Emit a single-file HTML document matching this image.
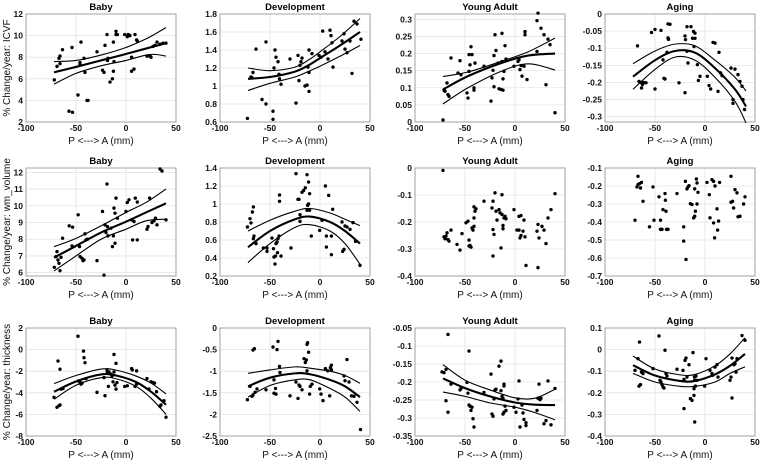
<!DOCTYPE html>
<html><head><meta charset="utf-8">
<style>
html,body{margin:0;padding:0;background:#fff;}
svg{display:block;font-family:"Liberation Sans",Arial,sans-serif;}
.tick{font-size:8.5px;font-weight:bold;fill:#111;}
.ttl{font-size:9.5px;font-weight:bold;fill:#000;}
.xl{font-size:10px;fill:#111;}
.yl{font-size:10px;fill:#111;}
</style></head>
<body>
<svg id="fig" width="768" height="463" viewBox="0 0 768 463" xmlns="http://www.w3.org/2000/svg"></svg>
<script>
// ---------- shared ----------
const xTicks = [-100, -50, 0, 50];
const panelTitles = ["Baby", "Development", "Young Adult", "Aging"];
const rowLabels = ["% Change/year: ICVF", "% Change/year: wm_volume", "% Change/year: thickness"];

// ---------- Row 1: ICVF ----------
const icvfBabyX = [-71.7,-69,-67,-66,-63.5,-66,-57,-53.5,-54,-48,-45,-46,-46,-42,-41,-39,-38,-29,-23.5,-22,-21,-19,-18.5,-18,-16,-13.6,-12.6,-12.6,-12,-10,-10,-8.6,-1.3,2.3,1.3,3.9,5.6,5.6,8,9,10.6,11.3,21,24,25,27,29,31,34,37,40];
const icvfBabyY = [5.9,7.15,7.9,8.1,8.7,7.4,3.0,2.9,8.9,4.5,9.4,7.5,7.3,7.9,6.6,4.0,4.0,8.5,6.8,6.6,9.1,10.1,7.7,7.9,5.7,6.0,6.7,9.4,7.6,10.4,10.1,10.1,10.1,10.1,9.9,10.0,8.0,6.7,6.9,10.1,9.6,9.5,8.1,8.1,8.0,9.0,9.1,9.4,9.2,9.3,9.3];
const icvfBabyFitX = [-72,-50,-25,0,20,30,40];
const icvfBabyFit = [6.6,7.1,7.7,8.3,8.8,9.05,9.3];
const icvfBabyUp = [7.6,7.7,8.2,8.9,9.7,10.2,10.75];
const icvfBabyLo = [5.5,6.5,7.2,7.7,8.2,8.25,8.1];

const icvfDevX = [-72.6,-69,-68,-67,-64,-58,-54,-54,-47,-47,-46,-45,-44,-42,-41,-40.5,-39,-30,-24,-22,-21,-20,-19,-18,-15,-13,-12,-11,-11,-11,-8,-1,1,2.7,5,8,10,11,12,13,22,24,25,27,30,32,34,37,41];
const icvfDevY = [0.64,1.10,1.09,1.15,1.41,0.85,0.80,1.49,0.72,0.63,1.2,1.40,1.32,1.27,1.13,1.08,1.02,1.3,0.81,1.34,1.06,1.23,1.27,1.31,1.0,1.01,1.21,1.15,1.40,0.94,1.36,1.34,1.32,1.61,1.38,1.3,1.62,1.56,1.48,1.21,1.5,1.58,1.41,1.37,1.5,1.14,1.72,1.69,1.52];
const icvfDevFitX = [-72,-50,-25,-10,0,20,40];
const icvfDevFit = [1.08,1.1,1.16,1.24,1.31,1.45,1.6];
const icvfDevUp = [1.2,1.17,1.21,1.3,1.38,1.55,1.75];
const icvfDevLo = [0.95,1.03,1.1,1.17,1.22,1.33,1.45];

const icvfYaX = [-72,-71,-70,-68,-67,-66,-64,-57,-55,-54,-48,-47,-46,-46,-45,-44,-43,-41,-41,-40,-31,-24,-23,-22,-21,-21,-20,-19,-17,-16,-14,-12,-13,-12,-13,-11,-10,-9,-1,3,4,5,6,7,9,10,10,12,22,22,23,26,29,31,33,35,40];
const icvfYaY = [0.006,0.093,0.09,0.114,0.08,0.075,0.187,0.143,0.179,0.138,0.085,0.07,0.148,0.197,0.167,0.22,0.197,0.1,0.093,0.172,0.163,0.061,0.129,0.151,0.103,0.194,0.255,0.209,0.172,0.097,0.095,0.093,0.259,0.126,0.177,0.148,0.223,0.184,0.163,0.177,0.182,0.153,0.165,0.134,0.163,0.264,0.255,0.124,0.206,0.296,0.318,0.274,0.255,0.109,0.242,0.226,0.027];
const icvfYaFitX = [-72,-47,-14,13,40];
const icvfYaFit = [0.095,0.134,0.172,0.194,0.2];
const icvfYaUp = [0.133,0.146,0.177,0.205,0.245];
const icvfYaLo = [0.053,0.1,0.148,0.17,0.152];

const icvfAgX = [-67.5,-66,-64,-62.5,-63.5,-61.5,-59,-53.5,-50,-50,-44,-42,-41,-40,-38,-37,-35,-37,-36.5,-26,-20,-20,-19.5,-18,-18,-17,-14,-12.5,-11.5,-11,-10,-10,-7.6,-6.6,-5,2.3,4,5.7,8,10,13,14,15.6,17,26,28,28,30,33,35,37,38,39.5];
const icvfAgY = [-0.093,-0.197,-0.2,-0.206,-0.216,-0.2,-0.201,-0.054,-0.045,-0.219,-0.048,-0.134,-0.188,-0.19,-0.112,-0.029,-0.03,-0.07,-0.074,-0.201,-0.23,-0.064,-0.075,-0.037,-0.109,-0.143,-0.037,-0.071,-0.051,-0.095,-0.056,-0.071,-0.148,-0.194,-0.182,-0.182,-0.209,-0.219,-0.083,-0.085,-0.226,-0.112,-0.172,-0.18,-0.158,-0.261,-0.25,-0.161,-0.177,-0.197,-0.211,-0.25,-0.279];
const icvfAgFitX = [-72,-50,-30,-10,10,30,41];
const icvfAgFit = [-0.183,-0.135,-0.108,-0.113,-0.158,-0.22,-0.27];
const icvfAgUp = [-0.145,-0.108,-0.088,-0.093,-0.135,-0.185,-0.225];
const icvfAgLo = [-0.22,-0.162,-0.126,-0.135,-0.185,-0.255,-0.318];

// ---------- Row 2: wm_volume ----------
const wmBabyX = [-71.7,-70,-69,-68,-67,-66,-65,-63.4,-56.8,-53.4,-54,-47.8,-46.5,-46,-44,-43,-42,-41,-40,-38.5,-29,-23.5,-22,-21,-19,-20,-18,-18.6,-15,-13.6,-12.6,-12,-11,-10,-11,-8.6,0,1.3,3,5.6,6.6,8,9.3,11.3,11.3,21,22,23.6,26,28,29.5,31,34,36,40];
const wmBabyY = [6.32,6.96,7.26,6.76,6.56,6.12,6.92,8.06,8.8,8.72,7.6,9.46,7.56,6.96,6.86,6.72,6.76,8.32,7.96,8.0,6.72,9.66,5.85,8.86,11.3,8.4,8.2,8.76,8.66,7.56,8.2,9.86,9.56,10.46,7.76,9.26,9.66,10.2,10.36,9.16,7.96,9.06,10.46,10.22,7.96,8.6,8.76,10.46,9.0,9.1,9.26,8.86,12.2,12.08,9.16];
const wmBabyFitX = [-72,-50,-25,0,20,40];
const wmBabyFit = [6.9,7.6,8.4,9.05,9.6,10.15];
const wmBabyUp = [7.55,8.05,8.8,9.6,10.2,11.0];
const wmBabyLo = [6.1,7.0,8.0,8.6,9.1,9.2];

const wmDevX = [-72.6,-70,-69,-66.6,-67.6,-66,-64,-66.6,-56.6,-53,-53,-48,-46.5,-46,-44.5,-45,-44,-43,-42,-41,-40.5,-40.5,-42.5,-39,-29,-24,-22,-21,-20,-20,-18,-16.4,-14.7,-13,-13,-12.4,-11.4,-11.4,-10.4,-10.4,-8.7,-0.3,2,5.4,6.4,6.4,8.7,11.4,11.4,12.7,22,22.7,24,25,27,30,33,35.5,40];
const wmDevY = [0.745,0.837,0.79,0.967,0.911,0.644,0.56,0.615,0.511,0.511,0.474,0.622,0.504,0.411,0.422,0.333,0.56,0.578,0.615,0.644,1.03,1.1,0.459,0.422,0.511,1.337,1.052,1.052,0.807,0.881,1.13,1.15,1.18,1.326,0.93,0.985,1.0,1.244,1.115,0.93,0.644,0.707,0.819,1.2,0.522,0.644,1.096,0.644,0.437,0.941,0.8,0.474,0.496,0.756,0.744,0.718,0.793,0.585,0.318];
const wmDevFitX = [-72,-50,-25,-10,10,25,40];
const wmDevFit = [0.52,0.7,0.83,0.86,0.8,0.7,0.56];
const wmDevUp = [0.7,0.82,0.92,0.95,0.9,0.83,0.76];
const wmDevLo = [0.35,0.56,0.74,0.77,0.7,0.56,0.33];

const wmYaX = [-72,-71,-70,-69,-68,-67,-66,-64,-58,-55,-53,-49,-47,-46,-46,-45,-44,-43,-42,-41,-41,-40,-39,-41,-31,-23,-22,-22,-22,-21,-20,-19,-18,-16,-15,-14,-13,-13,-12,-12,-11,-10,-9,-1,2,4,4,6,5,6,8,9,10,11,22,23,23,24,27,29,31,33,36,40];
const wmYaY = [-0.009,-0.255,-0.262,-0.252,-0.24,-0.265,-0.271,-0.23,-0.283,-0.304,-0.243,-0.203,-0.197,-0.267,-0.289,-0.287,-0.293,-0.222,-0.23,-0.216,-0.185,-0.16,-0.151,-0.144,-0.123,-0.148,-0.123,-0.228,-0.326,-0.246,-0.092,-0.16,-0.193,-0.154,-0.166,-0.296,-0.099,-0.172,-0.213,-0.225,-0.185,-0.179,-0.188,-0.154,-0.23,-0.23,-0.179,-0.176,-0.259,-0.25,-0.234,-0.193,-0.255,-0.361,-0.234,-0.369,-0.209,-0.259,-0.216,-0.23,-0.28,-0.185,-0.154,-0.095];

const wmAgX = [-70,-67,-67,-68,-65.5,-64.5,-63.5,-62,-55.5,-52,-51,-46,-44.5,-44.5,-43,-42,-40,-39.6,-39,-38.5,-37,-28,-21.3,-21.3,-19.6,-19,-18,-17,-16,-14.6,-13,-11.3,-10.3,-10.3,-9.6,-8.6,-8,-8,-7,2,4.3,5,7,8.6,8.6,9.6,10,12,12.6,13.6,14.6,26,26,27.6,28.6,30,32,33,35,38.6,40];
const wmAgY = [-0.39,-0.146,-0.192,-0.205,-0.187,-0.211,-0.18,-0.285,-0.427,-0.205,-0.39,-0.26,-0.39,-0.441,-0.441,-0.331,-0.242,-0.279,-0.34,-0.441,-0.441,-0.242,-0.427,-0.506,-0.174,-0.608,-0.216,-0.205,-0.198,-0.298,-0.303,-0.377,-0.216,-0.368,-0.34,-0.161,-0.183,-0.3,-0.235,-0.18,-0.248,-0.377,-0.165,-0.174,-0.405,-0.488,-0.2,-0.327,-0.445,-0.395,-0.18,-0.146,-0.29,-0.285,-0.322,-0.22,-0.238,-0.371,-0.368,-0.3,-0.26];

// ---------- Row 3: thickness ----------
const thBabyX = [-72,-69,-67,-66,-68,-66,-65,-63,-48,-47.5,-46,-45,-44,-42.5,-42,-41,-40,-29,-22,-21,-19,-18.6,-17.6,-17,-15,-14,-13,-12,-12,-11,-10,-10,-9,-1.3,1.3,5.6,6.3,9,10.6,10.6,21,23,25,27,28.5,30.5,34,35,38,40];
const thBabyY = [-4.42,-5.34,-5.19,-5.13,-1.06,-1.82,-3.66,-3.6,1.24,-2.9,-3.05,-3.2,-3.1,-0.14,-0.75,-1.21,-2.68,-3.96,-2.59,-4.27,-1.91,-2.13,-3.41,-2.07,-2.28,-2.43,-2.98,-0.45,-2.07,-3.29,-1.27,-3.66,-3.05,-3.41,-3.35,-1.76,-1.88,-3.41,-3.2,-1.97,-2.68,-3.66,-2.98,-3.05,-3.1,-3.9,-5.24,-5.13,-4.73,-6.26];
const thBabyFitX = [-72,-50,-25,-10,10,25,40];
const thBabyFit = [-3.9,-2.95,-2.3,-2.4,-3.0,-3.9,-5.1];
const thBabyUp = [-3.15,-2.4,-1.8,-1.9,-2.45,-3.1,-4.1];
const thBabyLo = [-4.6,-3.3,-2.6,-2.7,-3.4,-4.5,-6.0];

const thDevX = [-72.6,-70,-68,-67,-67,-65.6,-65,-63,-54,-47,-46,-46,-44.5,-44,-43,-42,-40.5,-40,-30,-24,-22,-21,-20,-18,-16,-14.7,-13.7,-13,-12.4,-13,-11.4,-10.4,-9.7,-8,-0.3,1,3,5.4,7.7,10.4,11.4,11.4,9.7,24,25,27,29,31.5,34,37,40.5];
const thDevY = [-1.66,-1.35,-1.58,-1.55,-0.51,-0.48,-1.49,-1.41,-1.43,-0.44,-1.2,-1.51,-1.4,-1.53,-0.5,-0.31,-0.89,-1.03,-1.57,-1.25,-1.63,-1.32,-1.35,-1.43,-0.71,-0.8,-0.74,-0.38,-0.34,-0.99,-0.56,-1.53,-1.35,-1.3,-1.41,-1.53,-1.68,-0.94,-0.99,-0.92,-0.86,-0.97,-1.57,-1.11,-1.22,-0.73,-1.25,-1.57,-1.58,-1.72,-2.35];
const thDevFitX = [-72,-50,-25,-10,10,25,40];
const thDevFit = [-1.35,-1.15,-1.05,-1.07,-1.2,-1.35,-1.6];
const thDevUp = [-1.05,-0.97,-0.9,-0.93,-1.0,-1.1,-1.28];
const thDevLo = [-1.6,-1.33,-1.2,-1.2,-1.4,-1.6,-1.93];

const thYaX = [-73,-71,-69,-67,-69,-67,-64,-55,-54,-48,-47,-46,-46,-45,-44,-43,-42,-41,-31,-24,-23,-22,-21,-20,-19,-16,-14,-14,-13,-12,-11,-11,-12,-11,-10,-9,-1,1,3,4,5,7,8,9,11,11,22,23,24,25,26,29,31,33,36,40];
const thYaY = [-0.172,-0.174,-0.165,-0.068,-0.252,-0.284,-0.206,-0.222,-0.218,-0.201,-0.231,-0.264,-0.114,-0.267,-0.279,-0.27,-0.302,-0.325,-0.229,-0.178,-0.289,-0.295,-0.247,-0.222,-0.22,-0.156,-0.142,-0.224,-0.24,-0.245,-0.211,-0.206,-0.289,-0.284,-0.267,-0.279,-0.27,-0.284,-0.247,-0.197,-0.325,-0.264,-0.286,-0.304,-0.313,-0.321,-0.279,-0.245,-0.206,-0.249,-0.245,-0.316,-0.307,-0.197,-0.319,-0.218];
const thYaFitX = [-72,-50,-25,0,20,40];
const thYaFit = [-0.19,-0.217,-0.24,-0.257,-0.263,-0.264];
const thYaUp = [-0.152,-0.195,-0.222,-0.244,-0.245,-0.22];
const thYaLo = [-0.228,-0.24,-0.258,-0.27,-0.285,-0.305];

const thAgX = [-70,-67,-66,-65.5,-64.5,-63.5,-62,-52,-46,-45,-44,-43,-42,-41,-40,-39,-38,-28,-22,-21,-21,-20,-19,-18,-16,-14.6,-13,-12,-11,-11,-10.6,-10.3,-10.3,-9.6,-9,-8,-0.4,1,5,7,7.6,10,12,13,25,26,27,27,29,30,31,32,37,40];
const thAgY = [-0.096,-0.042,-0.169,0.035,-0.162,-0.104,-0.111,-0.088,0.063,-0.142,-0.15,-0.162,-0.173,-0.178,-0.003,-0.111,-0.122,-0.091,-0.096,-0.138,-0.273,-0.05,-0.039,-0.127,-0.07,-0.227,-0.235,-0.014,-0.181,-0.212,-0.127,-0.142,-0.335,-0.169,-0.122,-0.142,-0.169,-0.042,-0.096,-0.111,-0.119,-0.081,-0.07,-0.127,-0.142,-0.127,-0.224,-0.039,-0.07,-0.065,-0.104,-0.042,0.065,0.043];
const thAgFitX = [-72,-50,-25,-10,10,25,40];
const thAgFit = [-0.072,-0.12,-0.145,-0.145,-0.115,-0.075,-0.02];
const thAgUp = [-0.03,-0.09,-0.117,-0.115,-0.075,-0.02,0.055];
const thAgLo = [-0.11,-0.15,-0.17,-0.17,-0.15,-0.11,-0.08];

// y ticks per panel
const yTicksA = [2,4,6,8,10,12];
const yTicksB = [0.6,0.8,1,1.2,1.4,1.6,1.8];
const yTicksC = [0,0.05,0.1,0.15,0.2,0.25,0.3];
const yTicksD = [-0.3,-0.25,-0.2,-0.15,-0.1,-0.05,0];
const yTicksE = [6,7,8,9,10,11,12];
const yTicksF = [0.2,0.4,0.6,0.8,1,1.2,1.4];
const yTicksG = [-0.4,-0.3,-0.2,-0.1,0];
const yTicksH = [-0.7,-0.6,-0.5,-0.4,-0.3,-0.2,-0.1];
const yTicksI = [-8,-6,-4,-2,0,2];
const yTicksJ = [-2.5,-2,-1.5,-1,-0.5,0];
const yTicksK = [-0.35,-0.3,-0.25,-0.2,-0.15,-0.1,-0.05];
const yTicksL = [-0.4,-0.3,-0.2,-0.1,0,0.1];

const panels = [
 {r:0,c:0,name:'icvf-baby',ymin:2,ymax:12,yt:yTicksA,px:icvfBabyX,py:icvfBabyY,fx:icvfBabyFitX,f:icvfBabyFit,u:icvfBabyUp,l:icvfBabyLo},
 {r:0,c:1,name:'icvf-development',ymin:0.6,ymax:1.8,yt:yTicksB,px:icvfDevX,py:icvfDevY,fx:icvfDevFitX,f:icvfDevFit,u:icvfDevUp,l:icvfDevLo},
 {r:0,c:2,name:'icvf-young-adult',ymin:0,ymax:0.3155,yt:yTicksC,px:icvfYaX,py:icvfYaY,fx:icvfYaFitX,f:icvfYaFit,u:icvfYaUp,l:icvfYaLo},
 {r:0,c:3,name:'icvf-aging',ymin:-0.3155,ymax:0,yt:yTicksD,px:icvfAgX,py:icvfAgY,fx:icvfAgFitX,f:icvfAgFit,u:icvfAgUp,l:icvfAgLo},
 {r:1,c:0,name:'wm-volume-baby',ymin:5.8,ymax:12.26,yt:yTicksE,px:wmBabyX,py:wmBabyY,fx:wmBabyFitX,f:wmBabyFit,u:wmBabyUp,l:wmBabyLo},
 {r:1,c:1,name:'wm-volume-development',ymin:0.2,ymax:1.4,yt:yTicksF,px:wmDevX,py:wmDevY,fx:wmDevFitX,f:wmDevFit,u:wmDevUp,l:wmDevLo},
 {r:1,c:2,name:'wm-volume-young-adult',ymin:-0.4,ymax:0,yt:yTicksG,px:wmYaX,py:wmYaY},
 {r:1,c:3,name:'wm-volume-aging',ymin:-0.7,ymax:-0.1,yt:yTicksH,px:wmAgX,py:wmAgY},
 {r:2,c:0,name:'thickness-baby',ymin:-8,ymax:2,yt:yTicksI,px:thBabyX,py:thBabyY,fx:thBabyFitX,f:thBabyFit,u:thBabyUp,l:thBabyLo},
 {r:2,c:1,name:'thickness-development',ymin:-2.5,ymax:0,yt:yTicksJ,px:thDevX,py:thDevY,fx:thDevFitX,f:thDevFit,u:thDevUp,l:thDevLo},
 {r:2,c:2,name:'thickness-young-adult',ymin:-0.35,ymax:-0.05,yt:yTicksK,px:thYaX,py:thYaY,fx:thYaFitX,f:thYaFit,u:thYaUp,l:thYaLo},
 {r:2,c:3,name:'thickness-aging',ymin:-0.4,ymax:0.1,yt:yTicksL,px:thAgX,py:thAgY,fx:thAgFitX,f:thAgFit,u:thAgUp,l:thAgLo}
];

const colLeft = [26, 220, 415, 605];
const colW = 150;
const rowTop = [14, 168, 328];
const rowH = 108;
const NS = 'http://www.w3.org/2000/svg';
const svg = document.getElementById('fig');

function mk(tag, attrs, parent) {
  const e = document.createElementNS(NS, tag);
  for (const k in attrs) e.setAttribute(k, attrs[k]);
  (parent || svg).appendChild(e);
  return e;
}
function smoothPath(pts) {
  let d = 'M' + pts[0][0].toFixed(2) + ',' + pts[0][1].toFixed(2);
  for (let i = 0; i < pts.length - 1; i++) {
    const p0 = pts[Math.max(0, i - 1)], p1 = pts[i], p2 = pts[i + 1], p3 = pts[Math.min(pts.length - 1, i + 2)];
    const c1x = p1[0] + (p2[0] - p0[0]) / 6, c1y = p1[1] + (p2[1] - p0[1]) / 6;
    const c2x = p2[0] - (p3[0] - p1[0]) / 6, c2y = p2[1] - (p3[1] - p1[1]) / 6;
    d += ' C' + c1x.toFixed(2) + ',' + c1y.toFixed(2) + ' ' + c2x.toFixed(2) + ',' + c2y.toFixed(2) + ' ' + p2[0].toFixed(2) + ',' + p2[1].toFixed(2);
  }
  return d;
}

rowLabels.forEach((t, r) => {
  const cy = rowTop[r] + rowH / 2;
  const tx = mk('text', {x: 10, y: cy, class: 'yl', 'text-anchor': 'middle', transform: 'rotate(-90 10 ' + cy + ')'});
  
  
  tx.textContent = t;
});

panels.forEach(p => {
  const L = colLeft[p.c], T = rowTop[p.r], W = colW, H = rowH;
  const xs = v => L + (v + 100) / 150 * W;
  const ys = v => T + (p.ymax - v) / (p.ymax - p.ymin) * H;
  const g = mk('g', {});
  
  
  mk('rect', {x: L, y: T, width: W, height: H, fill: '#fff'}, g);
  // grid
  xTicks.forEach(t => {
    const gl = mk('line', {x1: xs(t), x2: xs(t), y1: T, y2: T + H, stroke: '#e4e4e4', 'stroke-width': 0.8}, g);
    
    
    const tl = mk('text', {x: xs(t), y: T + H + 9, class: 'tick', 'text-anchor': 'middle'}, g);
    
    
    tl.textContent = String(t);
  });
  p.yt.forEach(t => {
    const gl = mk('line', {x1: L, x2: L + W, y1: ys(t), y2: ys(t), stroke: '#e4e4e4', 'stroke-width': 0.8}, g);
    
    
    const tl = mk('text', {x: L - 3, y: ys(t) + 3, class: 'tick', 'text-anchor': 'end'}, g);
    
    
    tl.textContent = String(t);
  });
  const box = mk('rect', {x: L, y: T, width: W, height: H, fill: 'none', stroke: '#9a9a9a', 'stroke-width': 0.9}, g);
  
  
  const ttl = mk('text', {x: L + W / 2, y: T - 4, class: 'ttl', 'text-anchor': 'middle'}, g);
  
  
  ttl.textContent = panelTitles[p.c];
  const xl = mk('text', {x: L + W / 2, y: T + H + 22, class: 'xl', 'text-anchor': 'middle'}, g);
  
  
  xl.textContent = 'P <---> A (mm)';
  // points
  p.px.forEach((xv, i) => {
    const c = mk('circle', {cx: xs(xv), cy: ys(p.py[i]), r: 1.7, fill: '#000'}, g);
    
    
  });
  // fits
  if (p.f) {
    [[p.u, 1.1, 'fit-upper-ci'], [p.l, 1.1, 'fit-lower-ci'], [p.f, 2.1, 'fit-line']].forEach(([arr, w, nm]) => {
      const pts = p.fx.map((xv, i) => [xs(xv), ys(arr[i])]);
      const path = mk('path', {d: smoothPath(pts), fill: 'none', stroke: '#000', 'stroke-width': w}, g);
      
      
    });
  }
});
</script>
</body></html>
